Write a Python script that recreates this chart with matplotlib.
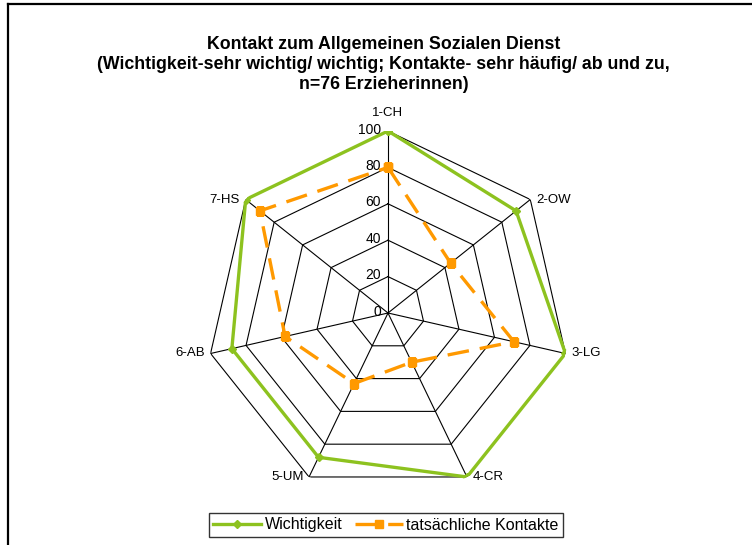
import numpy as np
import matplotlib
matplotlib.use("Agg")
import matplotlib.pyplot as plt
from matplotlib.lines import Line2D

plt.rcParams['font.family'] = ['Liberation Sans', 'DejaVu Sans']

# data
categories = ['1-CH', '2-OW', '3-LG', '4-CR', '5-UM', '6-AB', '7-HS']
wichtigkeit = [100, 90, 100, 100, 88, 88, 100]
kontakte = [80, 44, 71, 30, 43, 58, 90]
rings = [20, 40, 60, 80, 100]
tick_labels = ['0', '20', '40', '60', '80', '100']

green = '#8DC21F'
orange = '#FF9900'

fig = plt.figure(figsize=(7.52, 5.45), dpi=100)

# page border (chart area is cropped on right/bottom)
fig.add_artist(Line2D([8/752, 8/752], [-0.1, 1 - 3.5/545], color='black', lw=1.6, transform=fig.transFigure))
fig.add_artist(Line2D([8/752, 1.1], [1 - 3.5/545, 1 - 3.5/545], color='black', lw=1.6, transform=fig.transFigure))

fig.text(0.51, 1 - 36/545,
         'Kontakt zum Allgemeinen Sozialen Dienst\n'
         '(Wichtigkeit-sehr wichtig/ wichtig; Kontakte- sehr häufig/ ab und zu,\n'
         'n=76 Erzieherinnen)',
         ha='center', va='top', fontsize=12.8, fontweight='bold', linespacing=1.22)

# polar axes, center at (388, 313) px, radius 182 px
cx, cy, R = 388, 313, 182
ax = fig.add_axes([(cx - R)/752, (545 - cy - R)/545, 2*R/752, 2*R/545], projection='polar')
ax.set_theta_offset(np.pi/2)
ax.set_theta_direction(-1)
ax.set_ylim(0, 100)
ax.grid(False)
ax.set_xticks([])
ax.set_yticks([])
ax.spines['polar'].set_visible(False)
ax.patch.set_visible(False)

n = len(categories)
angles = [2*np.pi*i/n for i in range(n)]
closed = angles + angles[:1]

# web grid
for r in rings:
    ax.plot(closed, [r]*(n+1), color='black', lw=0.8, zorder=1)
for a in angles:
    ax.plot([a, a], [0, 100], color='black', lw=0.8, zorder=1)

# series
ax.plot(closed, wichtigkeit + wichtigkeit[:1], color=green, lw=2.4,
        marker='D', markersize=4, zorder=3, label='Wichtigkeit')
ax.plot(closed, kontakte + kontakte[:1], color=orange, lw=2.4, dashes=(6.5, 3.3),
        marker='s', markersize=6, zorder=4, label='tatsächliche Kontakte')

# radial tick labels
for i, t in enumerate(tick_labels):
    ax.annotate(t, xy=(0, i*20), xytext=(-5, 1), textcoords='offset points',
                ha='right', va='center', fontsize=10)

# category labels
for a, c in zip(angles, categories):
    s = np.sin(a)
    if abs(s) < 1e-6:
        ax.text(a, 110, c, ha='center', va='center', fontsize=9.5)
    elif s > 0:
        ax.annotate(c, xy=(a, 100), xytext=(4, 0), textcoords='offset points',
                    ha='left', va='center', fontsize=9.5)
    else:
        ax.annotate(c, xy=(a, 100), xytext=(-4, 0), textcoords='offset points',
                    ha='right', va='center', fontsize=9.5)

leg = fig.legend(loc='center', bbox_to_anchor=(386/752, 1 - 525/545), ncol=2,
                 fontsize=11.5, frameon=True, fancybox=False, edgecolor='black',
                 handlelength=3.0, handletextpad=0.2, columnspacing=0.8,
                 borderpad=0.3, numpoints=1)
leg.get_frame().set_linewidth(1.0)

fig.savefig('out.png', dpi=100)
